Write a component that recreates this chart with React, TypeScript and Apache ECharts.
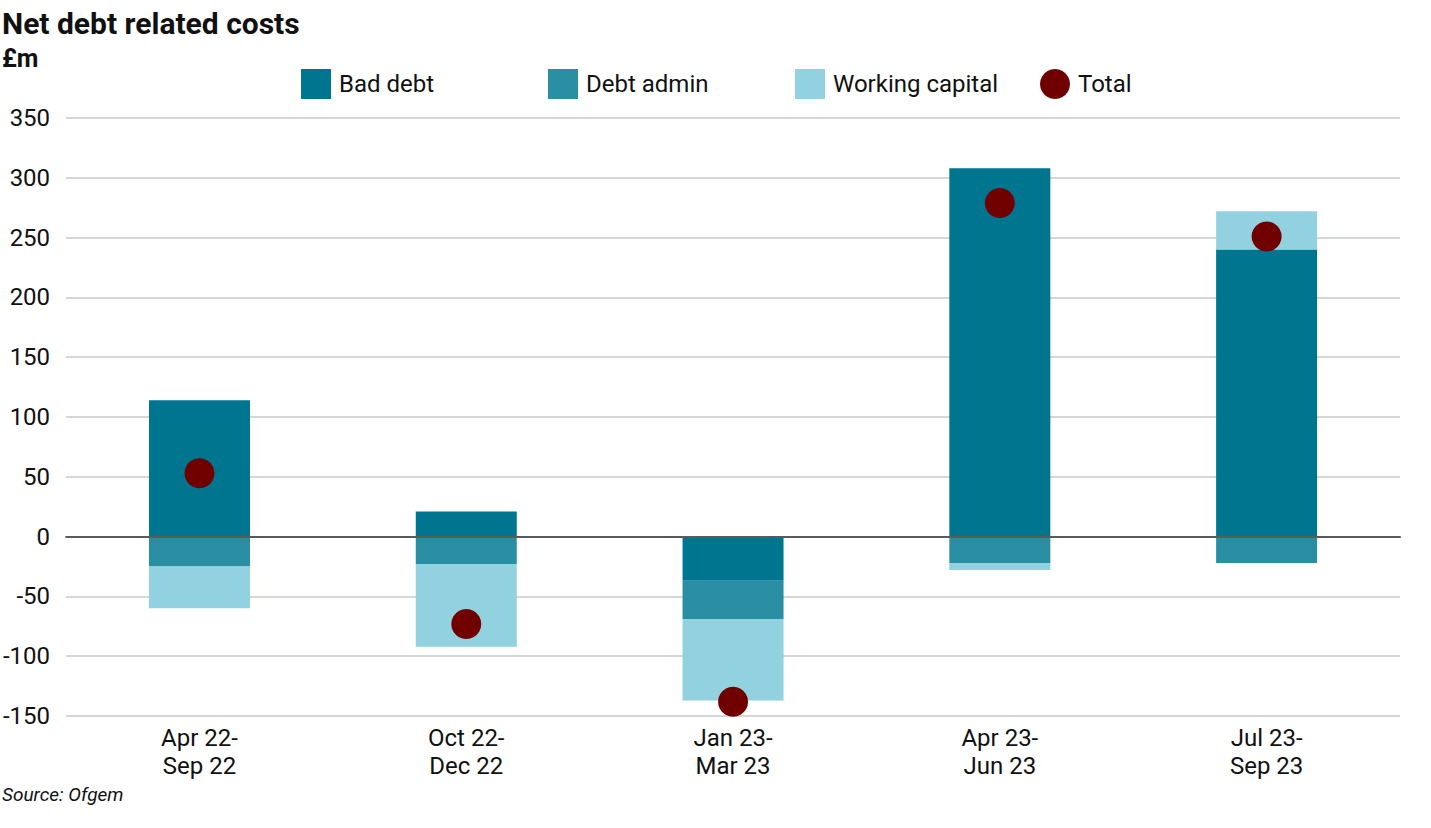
import React, { useEffect, useRef } from "react";
import * as echarts from "echarts";

// Periods (two-line category labels)
const categories = [
  "Apr 22-\nSep 22",
  "Oct 22-\nDec 22",
  "Jan 23-\nMar 23",
  "Apr 23-\nJun 23",
  "Jul 23-\nSep 23",
];

// £m by component
const badDebt = [114, 21, -37, 308, 240];
const debtAdmin = [-25, -23, -32, -22, -22];
const workingCapital = [-35, -69, -68, -6, 32];
const total = [53, -73, -138, 279, 251];

const yTicks = { min: -150, max: 350, interval: 50 };

const COLORS = {
  badDebt: "#00758f",
  debtAdmin: "#2a8ea3",
  workingCapital: "#92d1e0",
  total: "#700000",
};

const FONT = "Roboto, 'Noto Sans', sans-serif";

export default function App() {
  const ref = useRef<HTMLDivElement>(null);

  useEffect(() => {
    document.body.style.margin = "0";
    if (!ref.current) return;
    const chart = echarts.init(ref.current, null, { renderer: "svg" });

    const legendBase = {
      top: 69,
      padding: 0,
      itemWidth: 30,
      itemHeight: 30,
      itemGap: 0,
      textStyle: {
        fontFamily: FONT,
        fontSize: 24,
        color: "#111",
        padding: [0, 0, 0, 3],
      },
    };

    chart.setOption({
      animation: false,
      backgroundColor: "#ffffff",
      textStyle: { fontFamily: FONT },
      grid: { left: 66, right: 31, top: 118, bottom: 112, containLabel: false },
      legend: [
        { ...legendBase, left: 301, data: [{ name: "Bad debt", icon: "rect" }] },
        { ...legendBase, left: 548, data: [{ name: "Debt admin", icon: "rect" }] },
        { ...legendBase, left: 795, data: [{ name: "Working capital", icon: "rect" }] },
        { ...legendBase, left: 1040, data: [{ name: "Total", icon: "circle" }] },
      ],
      graphic: [
        {
          type: "text",
          left: 2,
          top: 8,
          style: {
            text: "Net debt related costs",
            font: `bold 30px ${FONT}`,
            fill: "#111",
          },
        },
        {
          type: "text",
          left: 2,
          top: 46,
          style: { text: "£m", font: `bold 25px ${FONT}`, fill: "#111" },
        },
        {
          type: "text",
          left: 2,
          top: 785,
          style: { text: "Source: Ofgem", font: `italic 19px ${FONT}`, fill: "#111" },
        },
      ],
      xAxis: {
        type: "category",
        data: categories,
        z: 3,
        axisLine: { onZero: true, lineStyle: { color: "#5a5a5a", width: 2 } },
        axisTick: { show: false },
        axisLabel: {
          color: "#111",
          fontSize: 24,
          lineHeight: 28,
          margin: 8,
          interval: 0,
          fontFamily: FONT,
        },
        splitLine: { show: false },
      },
      yAxis: {
        type: "value",
        min: yTicks.min,
        max: yTicks.max,
        interval: yTicks.interval,
        axisLine: { show: false },
        axisTick: { show: false },
        axisLabel: { color: "#111", fontSize: 24, margin: 16, fontFamily: FONT },
        splitLine: { lineStyle: { color: "#d6d6d6", width: 2 } },
      },
      series: [
        {
          name: "Bad debt",
          type: "bar",
          stack: "costs",
          barWidth: 101,
          data: badDebt,
          itemStyle: { color: COLORS.badDebt },
        },
        {
          name: "Debt admin",
          type: "bar",
          stack: "costs",
          barWidth: 101,
          data: debtAdmin,
          itemStyle: { color: COLORS.debtAdmin },
        },
        {
          name: "Working capital",
          type: "bar",
          stack: "costs",
          barWidth: 101,
          data: workingCapital,
          itemStyle: { color: COLORS.workingCapital },
        },
        {
          name: "Total",
          type: "scatter",
          symbol: "circle",
          symbolSize: 30,
          z: 5,
          data: total,
          itemStyle: { color: COLORS.total, opacity: 1 },
        },
      ],
    });

    return () => chart.dispose();
  }, []);

  return <div ref={ref} style={{ width: 1431, height: 828 }} />;
}
